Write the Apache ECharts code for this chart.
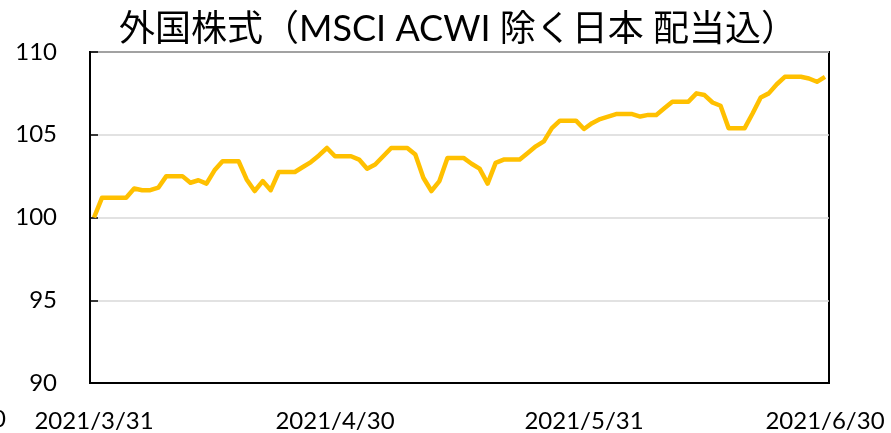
<!DOCTYPE html>
<html>
<head>
<meta charset="utf-8">
<script src="https://cdn.jsdelivr.net/npm/echarts@6/dist/echarts.min.js"></script>
<style>
  html, body { margin: 0; padding: 0; background: #fff; }
  #chart { width: 891px; height: 433px; }
</style>
</head>
<body>
<div id="chart"></div>
<script>
// daily values 2021/3/31 - 2021/6/30 (weekends / holidays carry the last value)
var startDate = [2021, 3, 31]
var indexValues = [
  100.0, 101.2, 101.2, 101.2, 101.2, 101.75, 101.65, 101.65, 101.8, 102.5,
  102.5, 102.5, 102.1, 102.25, 102.05, 102.85, 103.4, 103.4, 103.4, 102.3,
  101.6, 102.2, 101.65, 102.75, 102.75, 102.75, 103.05, 103.35, 103.75, 104.2,
  103.7, 103.7, 103.7, 103.5, 102.95, 103.2, 103.7, 104.2, 104.2, 104.2,
  103.8, 102.4, 101.6, 102.2, 103.6, 103.6, 103.6, 103.25, 102.95, 102.05,
  103.3, 103.5, 103.5, 103.5, 103.9, 104.3, 104.6, 105.4, 105.85, 105.85,
  105.85, 105.35, 105.7, 105.95, 106.1, 106.25, 106.25, 106.25, 106.1, 106.2,
  106.2, 106.6, 107.0, 107.0, 107.0, 107.5, 107.4, 106.95, 106.75, 105.4,
  105.4, 105.4, 106.3, 107.25, 107.5, 108.05, 108.5, 108.5, 108.5, 108.4,
  108.2, 108.5
]
var labelDates = ['2021/3/31', '2021/4/30', '2021/5/31', '2021/6/30']
var yMin = 90
var yMax = 110
var yStep = 5

// calendar categories, one per value
var dates = []
var d0 = new Date(startDate[0], startDate[1] - 1, startDate[2])
for (var i = 0; i < indexValues.length; i++) {
  var d = new Date(d0.getTime())
  d.setDate(d0.getDate() + i)
  dates.push(d.getFullYear() + '/' + (d.getMonth() + 1) + '/' + d.getDate())
}

var latin = 'Lato, "Noto Sans CJK JP", sans-serif'
var chart = echarts.init(document.getElementById('chart'), null, { renderer: 'canvas' })
chart.setOption({
  backgroundColor: '#fff',
  animation: false,
  title: {
    text: '外国株式（MSCI ACWI 除く日本 配当込）',
    left: 453,
    textAlign: 'center',
    top: 6,
    textStyle: {
      color: '#000',
      fontSize: 36,
      fontWeight: 'normal',
      fontFamily: latin
    }
  },
  grid: {
    left: 90,
    right: 62,
    top: 52,
    bottom: 50,
    show: true,
    borderColor: '#000',
    borderWidth: 2
  },
  xAxis: {
    type: 'category',
    data: dates,
    boundaryGap: true,
    axisLine: { lineStyle: { color: '#000', width: 2 } },
    axisTick: {
      inside: true,
      length: 7,
      lineStyle: { color: '#000', width: 1.5 },
      interval: function (idx, val) { return labelDates.indexOf(val) >= 0 }
    },
    axisLabel: {
      interval: function (idx, val) { return labelDates.indexOf(val) >= 0 },
      color: '#000',
      fontSize: 24,
      fontFamily: latin,
      margin: 26
    },
    splitLine: { show: false }
  },
  yAxis: {
    type: 'value',
    min: yMin,
    max: yMax,
    interval: yStep,
    axisLine: { show: true, lineStyle: { color: '#000', width: 2 } },
    axisTick: { show: true, inside: true, length: 8, lineStyle: { color: '#000', width: 1.5 } },
    axisLabel: {
      color: '#000',
      fontSize: 24,
      fontFamily: latin,
      margin: 33
    },
    splitLine: { show: true, lineStyle: { color: '#d9d9d9', width: 1.5 } }
  },
  graphic: [{
    type: 'text',
    left: -8,
    top: 407,
    style: { text: '0', fill: '#000', fontSize: 24, fontFamily: latin }
  }],
  series: [{
    name: '外国株式',
    type: 'line',
    data: indexValues,
    symbol: 'none',
    lineStyle: { color: '#FFC000', width: 4.5, join: 'round' },
    itemStyle: { color: '#FFC000' }
  }]
})
</script>
</body>
</html>
